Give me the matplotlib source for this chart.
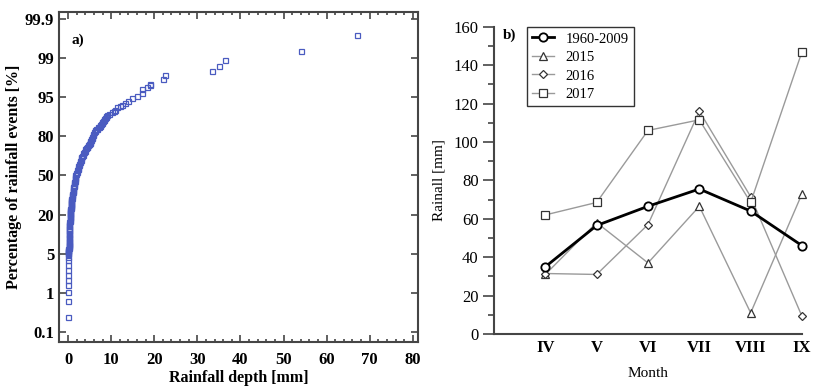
import numpy as np
import matplotlib
matplotlib.use("Agg")
import matplotlib.pyplot as plt
from matplotlib.ticker import MultipleLocator, FixedLocator

plt.rcParams['font.family'] = ['Liberation Serif', 'DejaVu Serif']

# panel a: rainfall events, depth [mm] vs cumulative percentage [%]
depth = [0.0, 0.0, 0.0, 0.05, 0.05, 0.05, 0.05, 0.05, 0.1, 0.1,
         0.1, 0.1, 0.1, 0.1, 0.1, 0.1, 0.1, 0.15, 0.15, 0.15,
         0.15, 0.2, 0.2, 0.2, 0.2, 0.2, 0.2, 0.25, 0.25, 0.25,
         0.25, 0.25, 0.3, 0.3, 0.3, 0.3, 0.3, 0.3, 0.3, 0.35,
         0.35, 0.35, 0.35, 0.4, 0.4, 0.4, 0.45, 0.5, 0.5, 0.55,
         0.55, 0.6, 0.6, 0.65, 0.65, 0.7, 0.7, 0.75, 0.75, 0.8,
         0.8, 0.85, 0.9, 0.95, 1.0, 1.05, 1.1, 1.15, 1.2, 1.25,
         1.3, 1.35, 1.4, 1.45, 1.5, 1.55, 1.6, 1.65, 1.7, 1.8,
         1.9, 2.0, 2.1, 2.2, 2.3, 2.4, 2.5, 2.6, 2.7, 2.8,
         2.9, 3.0, 3.1, 3.25, 3.4, 3.55, 3.7, 3.85, 4.0, 4.15,
         4.3, 4.45, 4.6, 4.75, 4.9, 5.0, 5.1, 5.2, 5.3, 5.4,
         5.5, 5.6, 5.7, 5.85, 6.0, 6.15, 6.3, 6.5, 6.7, 6.9,
         7.1, 7.3, 7.5, 7.65, 7.8, 7.95, 8.1, 8.25, 8.4, 8.55,
         8.7, 8.85, 9.0, 9.5, 10.3, 10.6, 10.9, 11.4, 12.1, 12.6,
         13.1, 14.0, 14.9, 15.9, 17.1, 17.2, 18.3, 19.0, 19.1, 22.0,
         22.4, 33.5, 35.0, 36.4, 54.1, 67.1]
percent = [0.45, 0.8, 1.1, 1.8, 2.3, 2.8, 3.3, 3.8, 4.4, 4.7,
           5.0, 5.3, 5.6, 5.9, 6.2, 6.5, 6.9, 7.2, 7.6, 8.0,
           8.3, 8.7, 9.0, 9.5, 10, 10.5, 11, 11.5, 12, 12.5,
           13, 13.5, 14, 14.5, 15, 15.5, 16, 16.5, 17, 17.5,
           18, 18.5, 19, 19.5, 20, 20.7, 21.5, 22.2, 23, 23.7,
           24.5, 25.2, 26, 26.7, 27.5, 28.2, 29, 29.7, 30.5, 31.2,
           32, 33, 34, 35, 36, 37, 38, 39, 40, 41,
           42, 43, 44, 45, 46, 47, 48, 49, 50, 51,
           52, 53, 54, 55, 56, 57, 58, 59, 60, 61,
           62, 63, 64, 65, 66, 67, 68, 69, 70, 70.8,
           71.5, 72.2, 73, 73.8, 74.5, 75.2, 76, 76.8, 77.5, 78.2,
           79, 79.8, 80.5, 81, 81.5, 81.9, 82.3, 82.7, 83, 83.4,
           83.7, 84, 84.3, 84.7, 85, 85.4, 85.8, 86.2, 86.6, 87,
           87.3, 87.7, 88, 88.5, 89.2, 89.7, 90.2, 91.2, 91.7, 92.2,
           92.7, 93.5, 94.7, 95.1, 95.4, 95.8, 96.0, 96.3, 96.4, 96.85,
           97.3, 97.7, 98.2, 98.76, 99.17, 99.53]
prob_ticks = [0.1, 1, 5, 20, 50, 80, 95, 99, 99.9]
prob_labels = ['0.1', '1', '5', '20', '50', '80', '95', '99', '99.9']

# panel b: monthly rainfall [mm]
months = ['IV', 'V', 'VI', 'VII', 'VIII', 'IX']
rain_1960_2009 = [35, 56.5, 66.5, 75.5, 64, 46]
rain_2015 = [31, 58, 37, 66.5, 11, 73]
rain_2016 = [31.5, 31, 57, 116, 71.5, 9.2]
rain_2017 = [62, 68.5, 106, 111.5, 68.5, 147]

# equally spaced probability axis (piecewise between the labelled levels)
P_KNOTS = [0.0, 0.1, 1, 5, 20, 50, 80, 95, 99, 99.9, 100]
I_KNOTS = [-0.5, 0, 1, 2, 3, 4, 5, 6, 7, 8, 8.5]
def fwd(p):
    return np.interp(p, P_KNOTS, I_KNOTS)
def inv(i):
    return np.interp(i, I_KNOTS, P_KNOTS)

fig = plt.figure(figsize=(8.14, 3.92), dpi=100)
frame_col = '#454545'

# ---------- a) ----------
ax = fig.add_axes([59/814, 1-342/392, (418-59)/814, (342-12)/392])
ax.set_yscale('function', functions=(fwd, inv))
ax.plot(depth, percent, ls='none', marker='s', ms=3.6, mfc='none',
        mec='#4a5bc0', mew=0.9)
ax.set_xlim(-2.1, 81.2)
ax.set_ylim(inv(-0.26), inv(8.18))
ax.yaxis.set_major_locator(FixedLocator(prob_ticks))
ax.yaxis.set_minor_locator(FixedLocator([]))
ax.set_yticklabels(prob_labels)
ax.xaxis.set_major_locator(MultipleLocator(10))
ax.xaxis.set_minor_locator(MultipleLocator(2))
ax.tick_params(which='both', direction='in', top=True, right=True,
               color=frame_col, width=1.2)
ax.tick_params(which='major', length=5, labelsize=12)
ax.tick_params(which='minor', length=2.5)
ax.tick_params(axis='x', pad=7)
for lab in ax.get_xticklabels() + ax.get_yticklabels():
    lab.set_fontweight('bold')
for s in ax.spines.values():
    s.set_color(frame_col)
    s.set_linewidth(1.5)
ax.set_xlabel('Rainfall depth [mm]', fontsize=11.5, fontweight='bold', labelpad=2)
ax.set_ylabel('Percentage of rainfall events [%]', fontsize=11.5,
              fontweight='bold', labelpad=2)
ax.text(0.036, 0.905, 'a)', transform=ax.transAxes, fontsize=11, fontweight='bold')

# ---------- b) ----------
bx = fig.add_axes([494/814, 1-334/392, (802-494)/814, (334-26.7)/392])
x = np.arange(len(months))
grey = '#9a9a9a'
mk = '#333333'
bx.plot(x, rain_2015, color=grey, lw=1, marker='^', ms=5.5, mfc='white',
        mec=mk, mew=0.9, label='2015', clip_on=False)
bx.plot(x, rain_2016, color=grey, lw=1, marker='D', ms=4.2, mfc='white',
        mec=mk, mew=0.9, label='2016', clip_on=False)
bx.plot(x, rain_2017, color=grey, lw=1, marker='s', ms=6, mfc='white',
        mec=mk, mew=0.9, label='2017', clip_on=False)
bx.plot(x, rain_1960_2009, color='black', lw=2, marker='o', ms=6,
        mfc='white', mec='black', mew=1.3, label='1960-2009', clip_on=False,
        zorder=5)
bx.set_xlim(-1.0, 5.0)
bx.set_ylim(0, 160)
bx.set_xticks(x)
bx.set_xticklabels(months, fontweight='bold', fontsize=12)
bx.yaxis.set_major_locator(MultipleLocator(20))
bx.yaxis.set_minor_locator(MultipleLocator(10))
bx.tick_params(axis='x', length=0, pad=4)
bx.tick_params(axis='y', which='major', length=8, width=1.2, color=frame_col,
               labelsize=12, pad=3)
bx.tick_params(axis='y', which='minor', length=4, width=1.2, color=frame_col)
for side in ['top', 'right']:
    bx.spines[side].set_visible(False)
for side in ['left', 'bottom']:
    bx.spines[side].set_color(frame_col)
    bx.spines[side].set_linewidth(1.5)
bx.set_xlabel('Month', fontsize=11, labelpad=8)
bx.set_ylabel('Rainall [mm]', fontsize=11, labelpad=6)
bx.text(0.03, 0.96, 'b)', transform=bx.transAxes, fontsize=11, fontweight='bold')

handles, labels = bx.get_legend_handles_labels()
order = [3, 0, 1, 2]
leg = bx.legend([handles[i] for i in order], [labels[i] for i in order],
                loc='upper left', bbox_to_anchor=(0.107, 1.0), borderaxespad=0,
                fancybox=False, edgecolor='black', fontsize=10.5,
                handlelength=1.5, labelspacing=0.3, borderpad=0.35,
                handletextpad=0.8, handleheight=0.9)
leg.get_frame().set_linewidth(1.0)

fig.savefig('out.png', dpi=100)
